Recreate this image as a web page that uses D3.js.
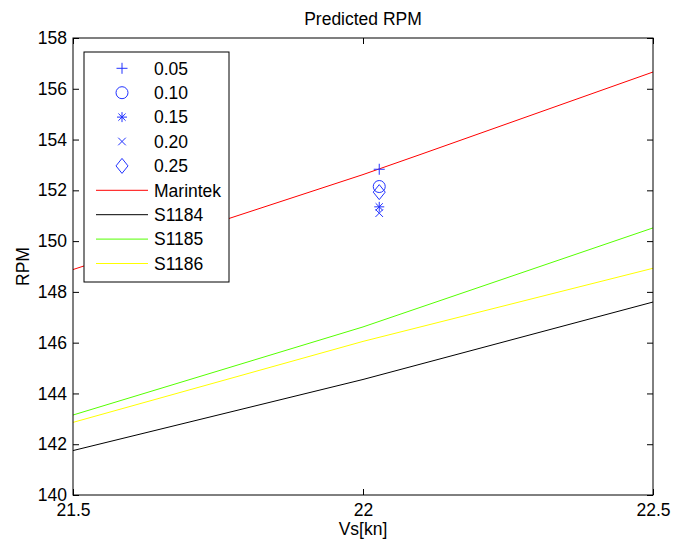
<!DOCTYPE html>
<html>
<head>
<meta charset="utf-8">
<script src="https://cdn.jsdelivr.net/npm/d3@7"></script>
<style>
  body { margin: 0; background: #fff; }
  text { font-family: "Liberation Sans", Arial, sans-serif; fill: #000; }
</style>
</head>
<body>
<script>
// speeds and predicted rpm per model
const speeds = [21.5, 22.0, 22.5];
const marintekSpeeds = [21.5, 22.0, 22.1, 22.5];
const marintek = [148.88, 152.62, 153.42, 156.66];
const s1184 = [141.75, 144.55, 147.6];
const s1185 = [143.15, 146.62, 150.52];
const s1186 = [142.86, 146.05, 148.93];

// measured points for each trim value
const pointLabels = ['0.05', '0.10', '0.15', '0.20', '0.25'];
const pointSpeed = [22.028, 22.028, 22.028, 22.028, 22.028];
const pointRpm = [152.83, 152.15, 151.35, 151.1, 151.93];

const xTicks = [21.5, 22, 22.5];
const yTicks = [140, 142, 144, 146, 148, 150, 152, 154, 156, 158];

let width = 674;
let height = 544;
let margin = {top: 38, right: 21, bottom: 49, left: 73};
let plotW = width - margin.left - margin.right;
let plotH = height - margin.top - margin.bottom;
let fontSize = '17.5px';

let svg = d3.select('body')
  .append('svg')
  .attr('width', width)
  .attr('height', height);

let x = d3.scaleLinear().domain([21.5, 22.5]).range([0, plotW]);
let y = d3.scaleLinear().domain([140, 158]).range([plotH, 0]);

let g = svg.append('g')
  .attr('transform', `translate(${margin.left}, ${margin.top})`);

// axes, matlab style ticks pointing inward
g.append('g')
  .attr('transform', `translate(0, ${plotH})`)
  .call(d3.axisBottom(x).tickValues(xTicks).tickSize(-6).tickPadding(9).tickFormat(d => d))
  .call(a => a.select('.domain').remove());
g.append('g')
  .call(d3.axisTop(x).tickValues(xTicks).tickSize(-6).tickFormat(''))
  .call(a => a.select('.domain').remove());
g.append('g')
  .call(d3.axisLeft(y).tickValues(yTicks).tickSize(-6).tickPadding(6))
  .call(a => a.select('.domain').remove());
g.append('g')
  .attr('transform', `translate(${plotW}, 0)`)
  .call(d3.axisRight(y).tickValues(yTicks).tickSize(-6).tickFormat(''))
  .call(a => a.select('.domain').remove());

g.selectAll('.tick line').attr('stroke', '#000');
g.selectAll('.tick text')
  .style('font-size', fontSize)
  .style('font-family', '"Liberation Sans", Arial, sans-serif')
  .attr('fill', '#000');

// lines
let series = [
  {name: 'Marintek', xs: marintekSpeeds, ys: marintek, color: '#ff0000'},
  {name: 'S1184', xs: speeds, ys: s1184, color: '#000000'},
  {name: 'S1185', xs: speeds, ys: s1185, color: '#55ff00'},
  {name: 'S1186', xs: speeds, ys: s1186, color: '#ffff00'}
];

let line = d3.line()
  .x(d => x(d[0]))
  .y(d => y(d[1]));

g.append('defs').append('clipPath').attr('id', 'clip')
  .append('rect').attr('width', plotW).attr('height', plotH);

g.append('g').attr('clip-path', 'url(#clip)')
  .selectAll('path')
  .data(series)
  .enter()
  .append('path')
  .attr('d', d => line(d.xs.map((v, i) => [v, d.ys[i]])))
  .attr('fill', 'none')
  .attr('stroke', d => d.color)
  .attr('stroke-width', 1);

// marker shapes
const markerPaths = [
  'M-5.5,0H5.5M0,-5.5V5.5',
  'M-6,0A6,6 0 1,0 6,0A6,6 0 1,0 -6,0Z',
  'M-5,0H5M0,-5V5M-3.6,-3.6L3.6,3.6M-3.6,3.6L3.6,-3.6',
  'M-3.8,-3.8L3.8,3.8M-3.8,3.8L3.8,-3.8',
  'M0,-7.5L6,0L0,7.5L-6,0Z'
];
let markerColor = '#2233ff';

g.selectAll('.pt')
  .data(pointLabels)
  .enter()
  .append('path')
  .attr('class', 'pt')
  .attr('transform', (d, i) => `translate(${x(pointSpeed[i])}, ${y(pointRpm[i])})`)
  .attr('d', (d, i) => markerPaths[i])
  .attr('fill', 'none')
  .attr('stroke', markerColor)
  .attr('stroke-width', 1);

// plot box
g.append('rect')
  .attr('width', plotW)
  .attr('height', plotH)
  .attr('fill', 'none')
  .attr('stroke', '#000')
  .attr('stroke-width', 1);

// legend
let legend = svg.append('g').attr('transform', 'translate(84, 52)');
let legendH = 24.4;
let items = pointLabels.map((d, i) => ({label: d, marker: i}))
  .concat(series.map(s => ({label: s.name, color: s.color})));

legend.append('rect')
  .attr('width', 145)
  .attr('height', 230)
  .attr('fill', '#fff')
  .attr('stroke', '#000');

let legendItem = legend.selectAll('.item')
  .data(items)
  .enter()
  .append('g')
  .attr('class', 'item')
  .attr('transform', (d, i) => `translate(0, ${16.3 + i * legendH})`);

legendItem.filter(d => d.marker !== undefined)
  .append('path')
  .attr('transform', 'translate(38, 0)')
  .attr('d', d => markerPaths[d.marker])
  .attr('fill', 'none')
  .attr('stroke', markerColor);

legendItem.filter(d => d.color !== undefined)
  .append('line')
  .attr('x1', 12)
  .attr('x2', 64)
  .attr('stroke', d => d.color);

legendItem.append('text')
  .attr('x', 70)
  .attr('dy', '0.36em')
  .style('font-size', fontSize)
  .text(d => d.label);

// titles
svg.append('text')
  .attr('x', margin.left + plotW / 2)
  .attr('y', 25)
  .attr('text-anchor', 'middle')
  .style('font-size', fontSize)
  .text('Predicted RPM');

svg.append('text')
  .attr('x', margin.left + plotW / 2)
  .attr('y', 535)
  .attr('text-anchor', 'middle')
  .style('font-size', fontSize)
  .text('Vs[kn]');

svg.append('text')
  .attr('transform', `translate(29, ${margin.top + plotH / 2}) rotate(-90)`)
  .attr('text-anchor', 'middle')
  .style('font-size', fontSize)
  .text('RPM');
</script>
</body>
</html>
